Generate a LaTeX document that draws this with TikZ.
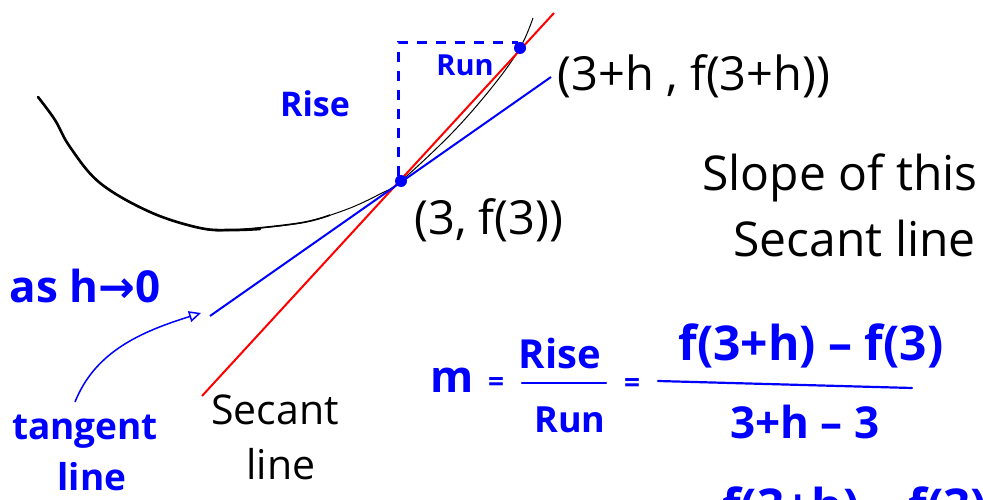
\documentclass[tikz,border=0pt]{standalone}
\usepackage{fontspec}
\setmainfont{Open Sans}
\newfontfamily\symfont{DejaVu Sans}
\usetikzlibrary{arrows.meta}
\newcommand{\fsz}[1]{\fontsize{#1}{#1}\selectfont}
\tikzset{
  hand/.style={inner sep=0pt, anchor=center},
  bluetxt/.style={hand, text=blue},
  blacktxt/.style={hand, text=black},
  ptdot/.style={circle, fill=blue, inner sep=0pt, minimum size=12pt},
  secantline/.style={red, line width=2pt},
  tangentline/.style={blue, line width=2pt},
  curvethick/.style={black, line width=2.6pt, line cap=round},
  curvemid/.style={black, line width=1.6pt},
  curvethin/.style={black, line width=1pt},
  risedash/.style={blue, line width=3pt, dash pattern=on 10pt off 9pt},
  fracbar/.style={blue, line width=2.2pt, line cap=round},
  pointer/.style={blue, line width=1.5pt, -{Triangle[open, length=12pt, width=11pt, line width=1.5pt]}},
}
\begin{document}
\begin{tikzpicture}[x=1pt,y=-1pt]
\useasboundingbox (0,0) rectangle (983,500);
\clip (0,0) rectangle (983,500);

% key points
\coordinate (P) at (401,181);
\coordinate (Q) at (520,48);
\coordinate (s1) at (202,396);
\coordinate (s2) at (554,13);
\coordinate (t1) at (210,316);
\coordinate (t2) at (551,77);
\coordinate (rb) at (398,176);
\coordinate (rc) at (398,43);
\coordinate (re) at (518,43);

% curve
\draw[curvethin] plot[smooth, tension=0.6] coordinates {(38,97) (55,120) (70,147) (100,183) (150,212) (200,228) (233,230) (300,223) (345,210) (380,194) (401,181) (452,133) (493,86) (520,48) (533,18)};
\draw[curvemid] plot[smooth, tension=0.6] coordinates {(38,97) (55,120) (70,147) (100,183) (150,212) (200,228) (233,230) (300,223) (330,215)};
\draw[curvethick] plot[smooth, tension=0.6] coordinates {(38,97) (55,120) (70,147) (100,183) (150,212) (200,228) (233,230) (260,229)};

% rise / run dashed
\draw[risedash] (rb) -- (rc) -- (re);

% lines
\draw[secantline] (s1) -- (s2);
\draw[tangentline] (t1) -- (t2);

% points
\node[ptdot] (Pdot) at (P) {};
\node[ptdot] (Qdot) at (Q) {};

% labels near graph
\node[bluetxt, font=\fsz{34}\bfseries] (rise) at (315,104) {Rise};
\node[bluetxt, font=\fsz{29}\bfseries] (run) at (465,65) {Run};
\node[blacktxt, font=\fsz{47}] (qlab) at (694,76) {(3+h , f(3+h))};
\node[blacktxt, font=\fsz{47}] (plab) at (489,220) {(3, f(3))};

\node[blacktxt, font=\fsz{48}, anchor=east] (slope1) at (978,178) {Slope of this};
\node[blacktxt, font=\fsz{48}, anchor=east] (slope2) at (976,238) {Secant line};

% left annotations
\node[bluetxt, font=\fsz{44}\bfseries] (ash) at (85,286) {as h{\symfont→}0};
\node[bluetxt, font=\fsz{37}\bfseries] (tang1) at (85,432) {tangent};
\node[bluetxt, font=\fsz{37}\bfseries] (tang2) at (92,477) {line};
\coordinate (arrstart) at (75,402);
\coordinate (arrend) at (201,313);
\draw[pointer] (arrstart) .. controls (95,352) and (140,332) .. (arrend);

\node[blacktxt, font=\fsz{41}] (sec1) at (275,410) {Secant};
\node[blacktxt, font=\fsz{41}] (sec2) at (281,464) {line};

% equation
\node[bluetxt, font=\fsz{44}\bfseries] (m) at (452,380) {m};
\node[bluetxt, font=\fsz{28}\bfseries] (eq1) at (496,384) {=};
\node[bluetxt, font=\fsz{40}\bfseries] (rnum) at (560,353) {Rise};
\coordinate (fb1a) at (522,383);
\coordinate (fb1b) at (606,383);
\draw[fracbar] (fb1a) -- (fb1b);
\node[bluetxt, font=\fsz{36}\bfseries] (rden) at (570,420) {Run};
\node[bluetxt, font=\fsz{28}\bfseries] (eq2) at (632,385) {=};
\node[bluetxt, font=\fsz{48}\bfseries] (num) at (811,346) {f(3+h) -- f(3)};
\coordinate (fb2a) at (658,381);
\coordinate (fb2b) at (912,388);
\draw[fracbar] (fb2a) -- (fb2b);
\node[bluetxt, font=\fsz{44}\bfseries] (den) at (805,422) {3+h -- 3};

% partially visible line at bottom
\node[bluetxt, font=\fsz{48}\bfseries, anchor=north west] (next) at (722,487) {f(3+h) -- f(3)};
\end{tikzpicture}
\end{document}
